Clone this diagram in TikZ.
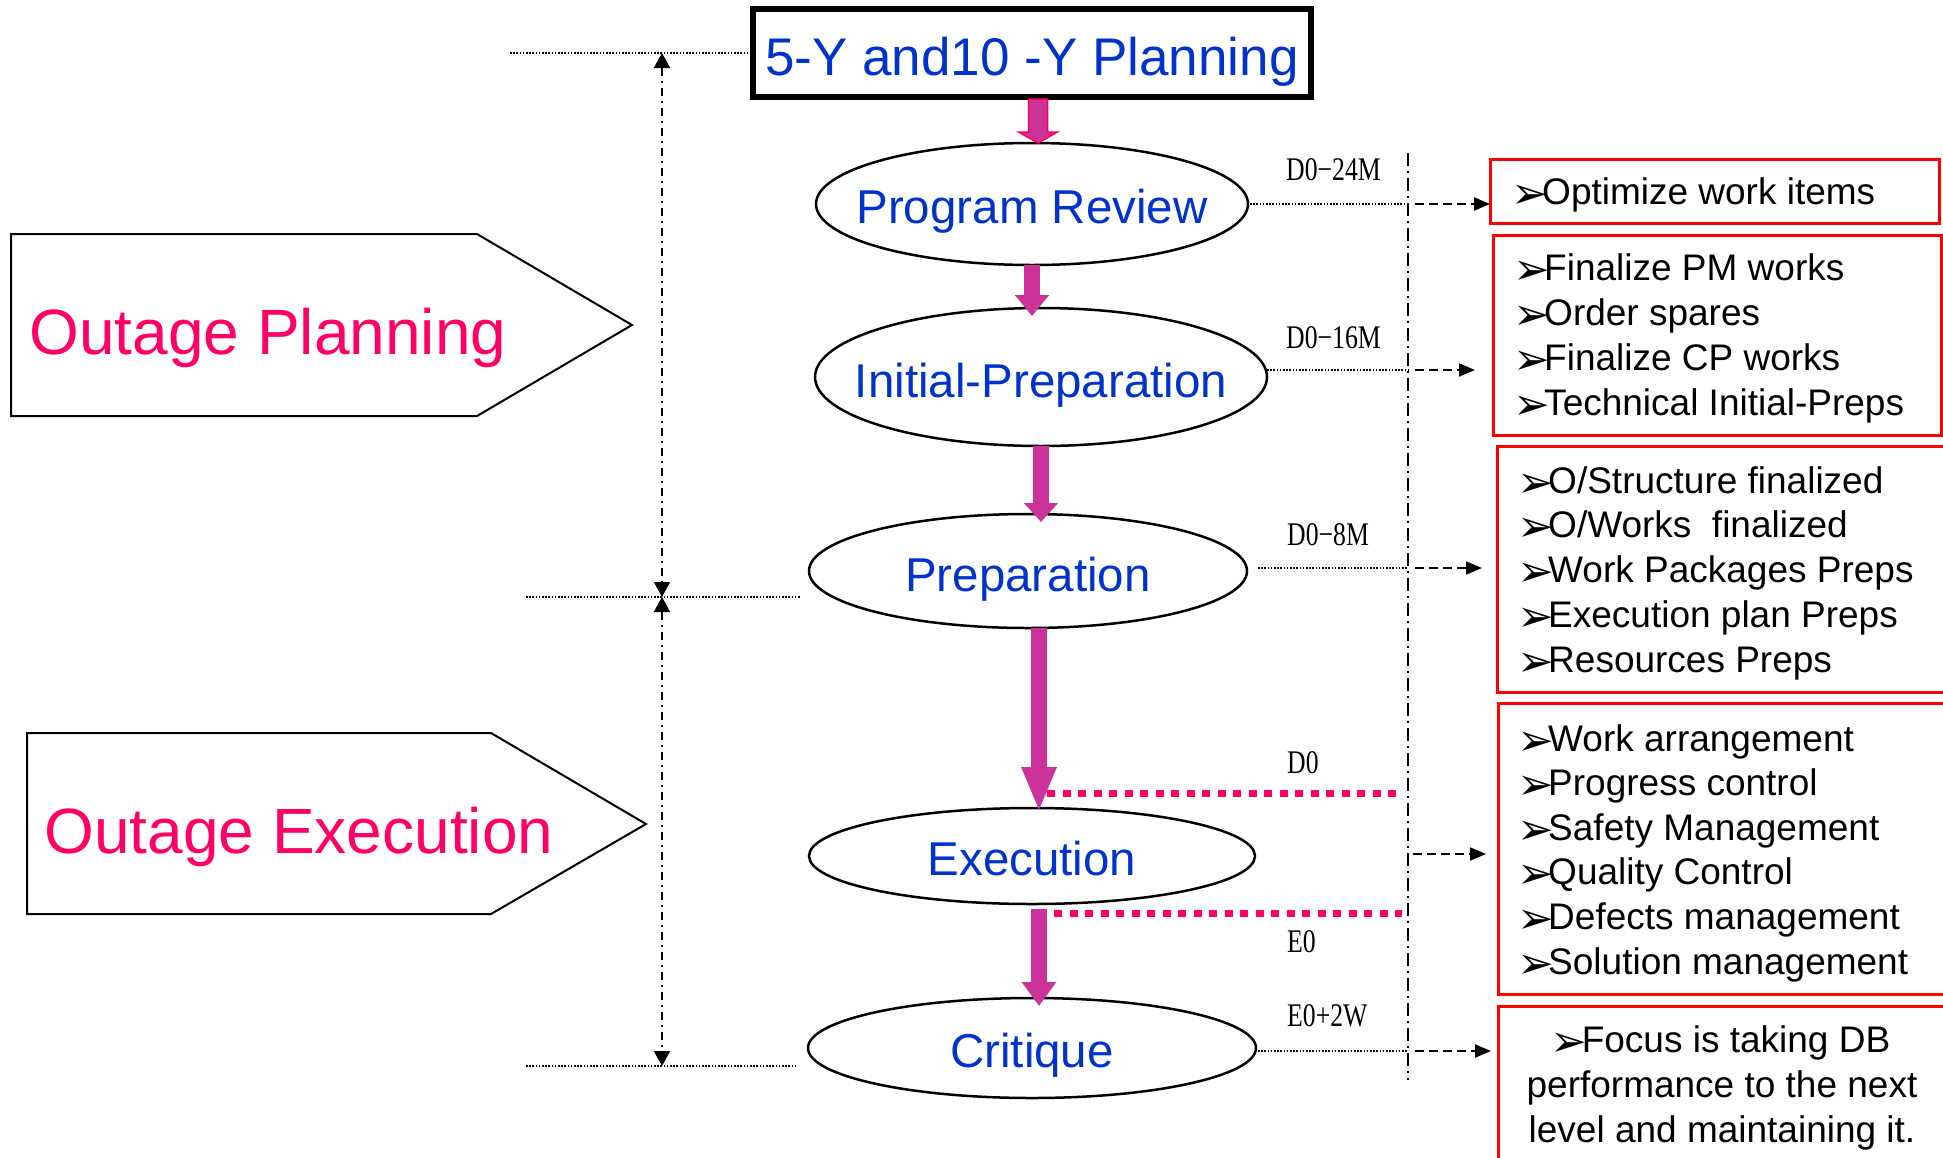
\documentclass[tikz,border=0pt]{standalone}
\usepackage{fontspec}
\setmainfont{Liberation Sans}
\newfontfamily\condserif[FakeStretch=0.78]{Liberation Serif}
\newfontfamily\dejavu{DejaVu Sans}
\usetikzlibrary{shapes.geometric,arrows.meta,calc}
\definecolor{stageblue}{HTML}{0033CC}
\definecolor{hotpink}{HTML}{FF0066}
\definecolor{magarrow}{HTML}{CC3399}
\newcommand{\bul}{\makebox[28pt][l]{\hspace{-3pt}\raisebox{-4pt}{\dejavu\fontsize{44}{44}\selectfont ➢}\hss}}
\begin{document}
\begin{tikzpicture}[x=1pt,y=-1pt,
  stage/.style={ellipse, draw=black, line width=2.5pt, fill=white, inner sep=0pt, outer sep=0pt},
  stagetext/.style={text=stageblue, font=\fontsize{47.5}{57}\selectfont, inner sep=0pt, text height=34pt, text depth=0pt},
  toptext/.style={text=stageblue, font=\fontsize{53}{64}\selectfont, inner sep=0pt, text height=38pt, text depth=0pt},
  phasetext/.style={text=hotpink, font=\fontsize{64}{77}\selectfont, inner sep=0pt, text height=46pt, text depth=0pt},
  redbox/.style={draw=red, line width=3pt, fill=white, inner sep=0pt, outer sep=0pt, anchor=north west},
  item/.style={anchor=base west, inner sep=0pt, font=\fontsize{37}{45}\selectfont},
  citem/.style={anchor=base, inner sep=0pt, font=\fontsize{37}{45}\selectfont},
  tlabel/.style={anchor=base west, inner sep=0pt, font=\condserif\fontsize{33}{33}\selectfont},
  bigarrow/.style={draw=magarrow, line width=16pt, -{Triangle[length=#1, width=33pt]}},
  dotline/.style={draw=black, line width=1.6pt, dash pattern=on 1.6pt off 1.6pt},
  dasharrow/.style={draw=black, line width=2pt, dash pattern=on 9pt off 5pt, -{Triangle[length=16pt,width=13pt]}},
  vdashdot/.style={draw=black, line width=2pt, dash pattern=on 13pt off 5pt on 2pt off 5pt},
  dimline/.style={draw=black, line width=2pt, dash pattern=on 8pt off 5pt on 2pt off 5pt, {Triangle[length=15pt,width=16pt]}-{Triangle[length=15pt,width=16pt]}},
  pinkdots/.style={draw=hotpink, line width=7pt, dash pattern=on 8pt off 7.5pt}
]
\useasboundingbox (0,0) rectangle (1943,1157);
\clip (0,0) rectangle (1943,1157);
\fill[white] (0,0) rectangle (1943,1157);

% phase pentagons
\draw[line width=2pt] (11,234) -- (477,234) -- (632,325) -- (477,416) -- (11,416) -- cycle;
\node[phasetext] (op) at (268,331) {Outage Planning};
\draw[line width=2pt] (27,733) -- (491,733) -- (646,824) -- (491,914) -- (27,914) -- cycle;
\node[phasetext] (oe) at (299,830) {Outage Execution};

% top box
\node[draw=black, line width=6pt, minimum width=558, minimum height=88, inner sep=0pt, outer sep=0pt] (top) at (1032,53) {};
\node[toptext] (toplbl) at ($(top.center)+(0,3)$) {5-Y and10 -Y Planning};

% stages
\node[stage, minimum width=432, minimum height=122] (pr) at (1032,204) {};
\node[stagetext] (prl) at ($(pr.center)+(0,2)$) {Program Review};
\node[stage, minimum width=452, minimum height=138] (ip) at (1041,377) {};
\node[stagetext] (ipl) at ($(ip.center)+(0,3)$) {Initial-Preparation};
\node[stage, minimum width=438, minimum height=114] (prep) at (1028,571) {};
\node[stagetext] (prepl) at ($(prep.center)+(0,3)$) {Preparation};
\node[stage, minimum width=446, minimum height=96] (exec) at (1032,856) {};
\node[stagetext] (execl) at ($(exec.center)+(0,2)$) {Execution};
\node[stage, minimum width=448, minimum height=100] (crit) at (1032,1048) {};
\node[stagetext] (critl) at ($(crit.center)+(0,2)$) {Critique};

% big arrows
\coordinate (a1s) at ($(top.south)+(6,2)$);
\coordinate (a1e) at (a1s |- pr.north);
\filldraw[fill=magarrow, draw=hotpink, line width=1.5pt] ($(a1s)+(-9.5,0)$) -- ($(a1s)+(9.5,0)$) -- ($(a1e)+(9.5,-11)$) -- ($(a1e)+(19.5,-11)$) -- (a1e) -- ($(a1e)+(-19.5,-11)$) -- ($(a1e)+(-9.5,-11)$) -- cycle;
\coordinate (a2e) at ($(pr.south |- ip.north)+(0,8)$);
\draw[bigarrow=21pt] (pr.south) -- (a2e);
\coordinate (a3e) at ($(ip.south |- prep.north)+(0,8)$);
\draw[bigarrow=19pt] (ip.south) -- (a3e);
\coordinate (a4s) at ($(prep.south)+(11,0)$);
\coordinate (a4e) at ($(a4s |- exec.north)+(0,4)$);
\draw[draw=magarrow, line width=16pt, -{Triangle[length=45pt, width=32pt]}] (a4s) -- (a4e);
\coordinate (a5s) at ($(exec.south)+(7,5)$);
\coordinate (a5e) at ($(a5s |- crit.north)+(0,8)$);
\draw[bigarrow=24pt] (a5s) -- (a5e);

% red boxes
\node[redbox, minimum width=449, minimum height=64] (b1) at (1490,159) {};
\node[redbox, minimum width=448, minimum height=200] (b2) at (1493,235) {};
\node[redbox, minimum width=455, minimum height=246] (b3) at (1497,446) {};
\node[redbox, minimum width=455, minimum height=291] (b4) at (1498,703) {};
\node[redbox, minimum width=455, minimum height=170] (b5) at (1498,1006) {};

\node[item] (t11) at (1514,204) {\bul Optimize work items};
\foreach \t [count=\i] in {Finalize PM works, Order spares, Finalize CP works, Technical Initial-Preps}
  \node[item] (t2\i) at (1516,{280+45.3*(\i-1)}) {\bul\t};
\foreach \t [count=\i] in {O/Structure finalized, O/Works~~finalized, Work Packages Preps, Execution plan Preps, Resources Preps}
  \node[item] (t3\i) at (1520,{493+44.75*(\i-1)}) {\bul\t};
\foreach \t [count=\i] in {Work arrangement, Progress control, Safety Management, Quality Control, Defects management, Solution management}
  \node[item] (t4\i) at (1520,{751+44.6*(\i-1)}) {\bul\t};
\node[citem] (t51) at (1722,1052) {\bul Focus is taking DB};
\node[citem] (t52) at (1722,1097) {performance to the next};
\node[citem] (t53) at (1722,1142) {level and maintaining it.};

% time labels
\node[tlabel] (l1) at (1286,180) {D0−24M};
\node[tlabel] (l2) at (1286,348) {D0−16M};
\node[tlabel] (l3) at (1287,545) {D0−8M};
\node[tlabel] (l4) at (1287,773) {D0};
\node[tlabel] (l5) at (1287,952) {E0};
\node[tlabel] (l6) at (1287,1026) {E0+2W};

% right timeline
\coordinate (vt) at (1408,153);
\coordinate (vb) at (1408,1080);
\draw[vdashdot] (vt) -- (vb);

\draw[dotline] ($(pr.east)+(2,0)$) -- (pr.east -| vt);
\draw[dasharrow] ($(pr.east -| vt)+(7,0)$) -- (pr.east -| b1.west);

\coordinate (ipr) at ($(ip.east)+(0,-7)$);
\draw[dotline] (ipr) -- (ipr -| vt);
\draw[dasharrow] ($(ipr -| vt)+(7,0)$) -- ($(ipr -| b2.west)+(-18,0)$);

\coordinate (ppr) at ($(prep.east)+(11,-3)$);
\draw[dotline] (ppr) -- (ppr -| vt);
\draw[dasharrow] ($(ppr -| vt)+(7,0)$) -- ($(ppr -| b3.west)+(-15,0)$);

\coordinate (exr) at ($(exec.east -| vt)+(5,-2)$);
\draw[dasharrow] (exr) -- ($(exr -| b4.west)+(-12,0)$);

\coordinate (crr) at ($(crit.east)+(2,3)$);
\draw[dotline] (crr) -- (crr -| vt);
\draw[dasharrow] ($(crr -| vt)+(7,0)$) -- ($(crr -| b5.west)+(-7,0)$);

% pink milestone lines
\coordinate (d0s) at ($(a4e)+(8,-19)$);
\draw[pinkdots] (d0s) -- ($(d0s -| vt)+(-6,0)$);
\coordinate (e0s) at ($(a5s)+(15,4)$);
\draw[pinkdots] (e0s) -- ($(e0s -| vt)+(-6,0)$);

% left dimension lines
\coordinate (h1) at (510,53);
\coordinate (h2a) at (526,597);
\coordinate (h2b) at (800,597);
\coordinate (h3a) at (526,1066);
\coordinate (h3b) at (798,1066);
\draw[dotline] (h1) -- (top.west);
\draw[dotline] (h2a) -- (h2b);
\draw[dotline] (h3a) -- (h3b);
\coordinate (lt) at (662,53);
\coordinate (lm) at (662,597);
\coordinate (lb) at (662,1066);
\draw[dimline] (lt) -- (lm);
\draw[dimline] (lm) -- (lb);
\end{tikzpicture}
\end{document}
